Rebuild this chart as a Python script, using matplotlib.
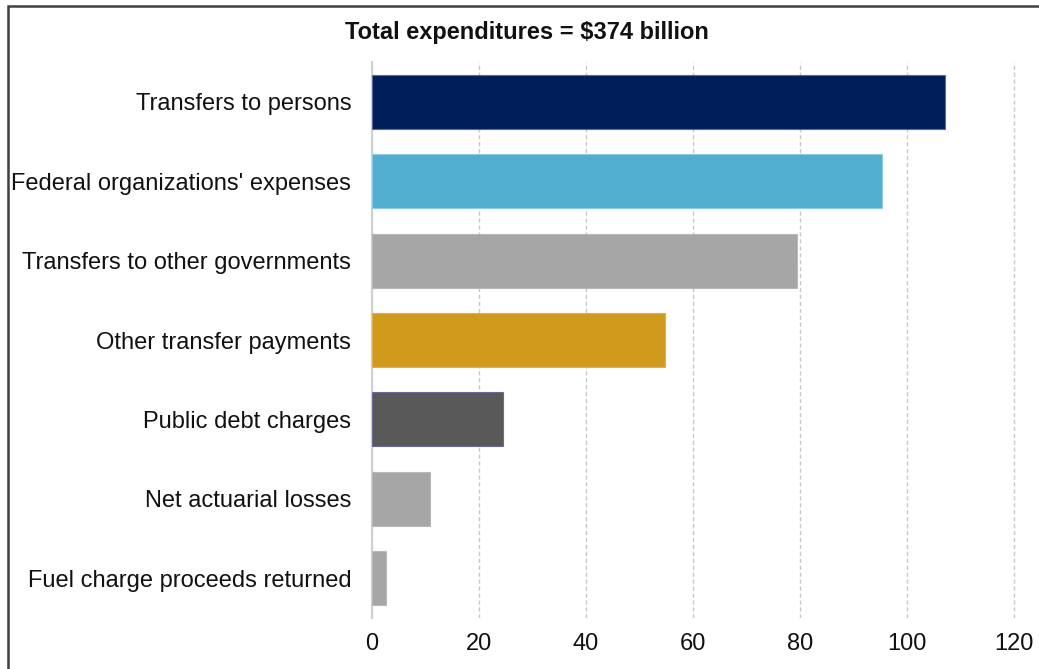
import matplotlib.pyplot as plt
from matplotlib.patches import Rectangle

plt.rcParams['font.family'] = ['Liberation Sans', 'DejaVu Sans']

# Expenditures by type, $ billions
categories = ["Transfers to persons", "Federal organizations' expenses",
              "Transfers to other governments", "Other transfer payments",
              "Public debt charges", "Net actuarial losses",
              "Fuel charge proceeds returned"]
values = [107.2, 95.4, 79.4, 54.8, 24.5, 10.9, 2.7]
colors = ["#001e5a", "#52aed1", "#a6a6a6", "#d09a1c", "#595959", "#a6a6a6", "#a6a6a6"]
edges = ["#5a6a9a", "#8ccbe6", "#b8b8b8", "#dcb050", "#6a6a9a", "#b8b8b8", "#b8b8b8"]
xticks = [0, 20, 40, 60, 80, 100, 120]

fig = plt.figure(figsize=(10.39, 6.69), dpi=100)
ax = fig.add_axes([372/1039, 1 - 618/669, (1016 - 372)/1039, (618 - 62)/669])

ypos = list(range(len(categories)))
ax.barh(ypos, values, height=0.68, color=colors, edgecolor=edges, linewidth=0.8, zorder=3)
ax.set_ylim(len(categories) - 0.5, -0.5)
ax.set_xlim(0, 120.4)
ax.set_yticks(ypos)
ax.set_yticklabels(categories, fontsize=17, color="#111111")
ax.set_xticks(xticks)
ax.set_xticklabels([str(t) for t in xticks], fontsize=17, color="#111111")
ax.tick_params(length=0, pad=15, axis='y')
ax.tick_params(length=0, pad=11, axis='x')

ax.grid(axis='x', color="#c8c8c8", linestyle=(0, (3, 2)), linewidth=1, zorder=0)
for s in ['top', 'right', 'bottom']:
    ax.spines[s].set_visible(False)
ax.spines['left'].set_color("#d0d0d0")
ax.spines['left'].set_linewidth(1.5)

fig.text(527/1039, 1 - 33/669, "Total expenditures = $374 billion", ha='center', va='center',
         fontsize=17, fontweight='bold', color="#111111")

# outer frame
fig.patches.append(Rectangle((8/1039, -0.1), 1.2, 1 - 6/669 + 0.1, transform=fig.transFigure,
                             fill=False, edgecolor="#404040", linewidth=1.8))

fig.savefig("out.png", dpi=100)
